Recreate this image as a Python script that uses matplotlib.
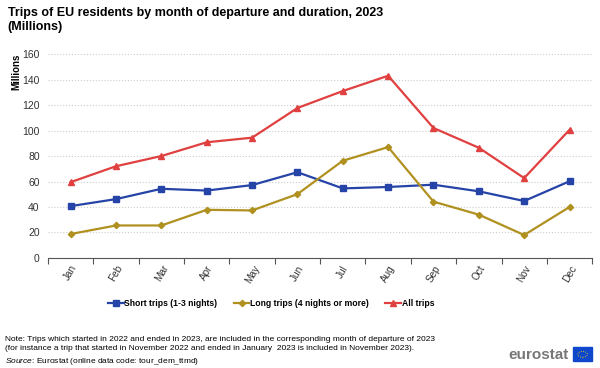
import numpy as np
import matplotlib.pyplot as plt
from matplotlib.patches import Rectangle, Circle

plt.rcParams['font.family'] = ['Liberation Sans', 'DejaVu Sans']
plt.rcParams['mathtext.fontset'] = 'custom'
plt.rcParams['mathtext.it'] = 'Liberation Sans:italic'
plt.rcParams['mathtext.rm'] = 'Liberation Sans'

months = ['Jan', 'Feb', 'Mar', 'Apr', 'May', 'Jun',
          'Jul', 'Aug', 'Sep', 'Oct', 'Nov', 'Dec']
short_trips = [40.7, 46.2, 54.3, 52.9, 57.2, 67.3, 54.6, 55.7, 57.5, 52.3, 44.7, 60.2]
long_trips = [18.8, 25.5, 25.5, 37.8, 37.3, 50.1, 76.3, 87.0, 44.2, 34.0, 18.0, 40.0]
all_trips = [59.5, 72.0, 80.0, 90.8, 94.4, 117.7, 131.0, 143.0, 102.0, 86.5, 62.7, 100.6]

fig = plt.figure(figsize=(6, 3.68), dpi=100)
ax = fig.add_axes([0.08, 0.299, 0.907, 0.554])

x = np.arange(len(months))
ax.plot(x, short_trips, color='#2644A7', marker='s', markersize=4, lw=1.6,
        label='Short trips (1-3 nights)')
ax.plot(x, long_trips, color='#B09120', marker='D', markersize=3.2, lw=1.6,
        label='Long trips (4 nights or more)')
ax.plot(x, all_trips, color='#E04040', marker='^', markersize=4.2, lw=1.6,
        label='All trips')

ax.set_xlim(-0.5, 11.5)
ax.set_ylim(0, 160)
ax.set_yticks(np.arange(0, 161, 20))
ax.yaxis.grid(True, color='#cccccc', linestyle=':', lw=0.8)
ax.set_axisbelow(True)
for s in ['left', 'right', 'top']:
    ax.spines[s].set_visible(False)
ax.spines['bottom'].set_color('#555555')
ax.tick_params(axis='y', length=0, labelsize=7.5, labelcolor='#333333', pad=6)

# ticks sit between the categories, labels at the centres
ax.set_xticks(np.arange(-0.5, 12, 1))
ax.set_xticklabels([])
ax.set_xticks(x, minor=True)
ax.set_xticklabels(months, minor=True, rotation=60, ha='center', fontsize=7.2,
                   color='#333333')
ax.tick_params(axis='x', which='major', length=4, color='#555555')
ax.tick_params(axis='x', which='minor', length=0, pad=4)

fig.text(0.013, 0.945, 'Trips of EU residents by month of departure and duration, 2023\n(Millions)',
         fontsize=9, fontweight='bold', va='center', ha='left', linespacing=1.25)
fig.text(0.027, 0.805, 'Millions', rotation=90, fontsize=7, fontweight='bold',
         va='center', ha='center')

ax.legend(loc='center', bbox_to_anchor=(0.41, -0.225), ncol=3, frameon=False,
          prop={'weight': 'bold', 'size': 6.2}, handlelength=1.8, handletextpad=0.1,
          columnspacing=1.9)

fig.text(0.008, 0.066,
         'Note: Trips which started in 2022 and ended in 2023, are included in the corresponding month of departure of 2023\n'
         '(for instance a trip that started in November 2022 and ended in January  2023 is included in November 2023).',
         fontsize=6.0, va='center', ha='left', linespacing=1.45)
fig.text(0.008, 0.019, r'$\it{Source}$: Eurostat (online data code: tour_dem_ttmd)',
         fontsize=6.0, va='center', ha='left')

fig.text(0.948, 0.035, 'eurostat', fontsize=11, fontweight='bold', color='#777777',
         ha='right', va='center')
fig.patches.append(Rectangle((0.955, 0.018), 0.032, 0.038, transform=fig.transFigure,
                             color='#0E47CB', zorder=5))
fig.patches.append(Circle((0.971, 0.037), 0.008, transform=fig.transFigure,
                          fill=False, ec='#FFDD00', lw=0.6, ls=':', zorder=6))

fig.savefig('out.png', dpi=100)
